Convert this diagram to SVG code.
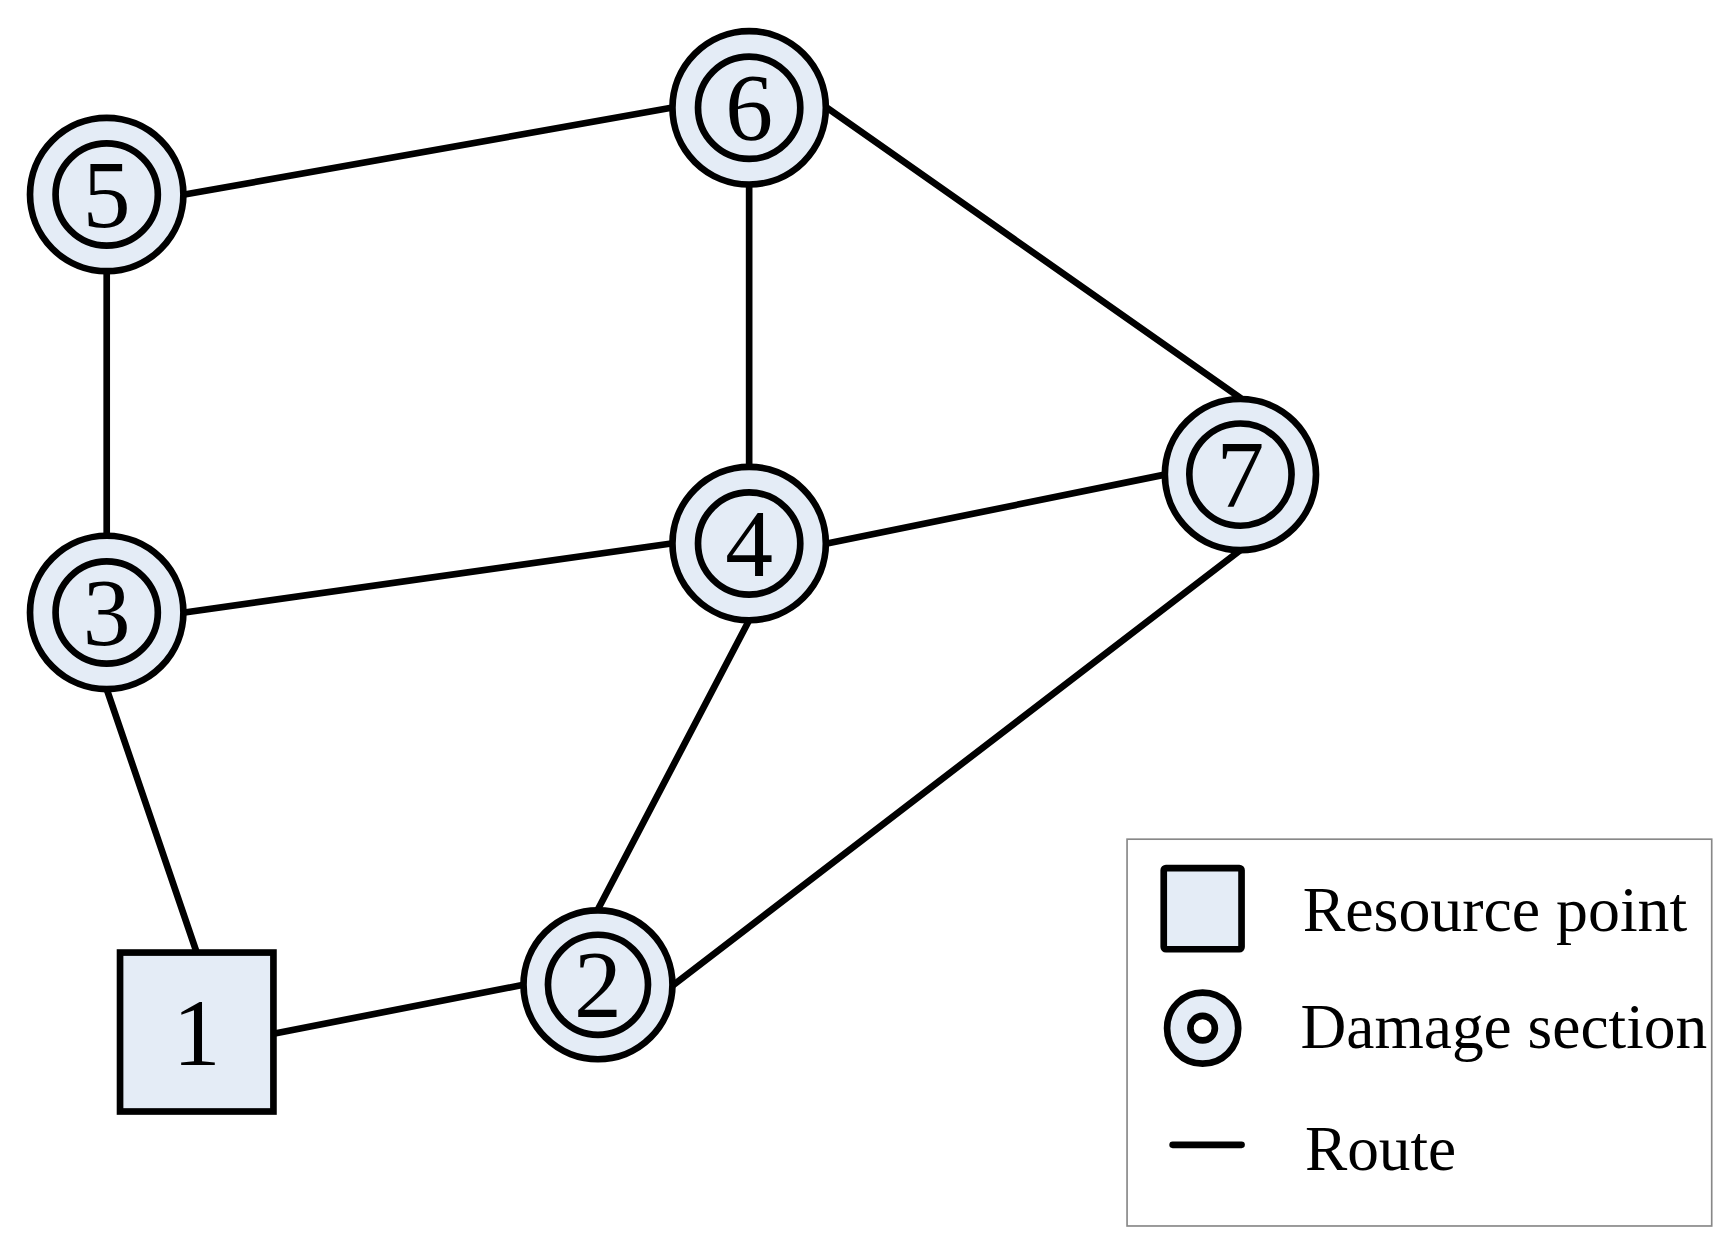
<svg xmlns="http://www.w3.org/2000/svg" width="1734" height="1248" viewBox="0 0 1734 1248">
<style>
.e{stroke:#000;stroke-width:6;fill:none;stroke-linecap:round}
.o{fill:#e4ecf6;stroke:#000;stroke-width:6}
.n{font-family:"Liberation Serif",serif;font-size:86px;text-anchor:middle}
.l{font-family:"Liberation Serif",serif;font-size:57px}
</style>
<rect width="1734" height="1248" fill="#fff"/>
<g transform="scale(1.1115)">
<g id="edges">
<line class="e" x1="166" y1="175" x2="604" y2="97"/>
<line class="e" x1="744" y1="97" x2="1116" y2="358"/>
<line class="e" x1="674" y1="166" x2="674" y2="420"/>
<line class="e" x1="96" y1="244" x2="96" y2="482"/>
<line class="e" x1="166" y1="551" x2="604" y2="489"/>
<line class="e" x1="744" y1="489" x2="1048" y2="427"/>
<line class="e" x1="674" y1="558" x2="538" y2="818"/>
<line class="e" x1="1116" y1="495" x2="606" y2="886"/>
<line class="e" x1="96" y1="620" x2="177" y2="857"/>
<line class="e" x1="246" y1="930" x2="471" y2="886"/>
</g>
<g id="n1"><rect class="o" x="108" y="857" width="138" height="143"/><text class="n" x="177" y="958">1</text></g>
<g id="n2"><circle class="o" cx="538" cy="886" r="67"/><circle class="o" cx="538" cy="886" r="45"/><text class="n" x="538" y="915">2</text></g>
<g id="n3"><circle class="o" cx="96" cy="551" r="69"/><circle class="o" cx="96" cy="551" r="46"/><text class="n" x="96" y="580">3</text></g>
<g id="n4"><circle class="o" cx="674" cy="489" r="69"/><circle class="o" cx="674" cy="489" r="46"/><text class="n" x="674" y="518">4</text></g>
<g id="n5"><circle class="o" cx="96" cy="175" r="69"/><circle class="o" cx="96" cy="175" r="46"/><text class="n" x="96" y="204">5</text></g>
<g id="n6"><circle class="o" cx="674" cy="97" r="69"/><circle class="o" cx="674" cy="97" r="46"/><text class="n" x="674" y="126">6</text></g>
<g id="n7"><circle class="o" cx="1116" cy="427" r="68"/><circle class="o" cx="1116" cy="427" r="46"/><text class="n" x="1116" y="456">7</text></g>
<g id="legend">
<rect x="1014" y="755" width="526" height="348" fill="#fff" stroke="#888" stroke-width="1.5"/>
<rect class="o" x="1047" y="781" width="70" height="73" rx="2"/>
<circle class="o" cx="1082" cy="925" r="32"/><circle fill="#fff" stroke="#000" stroke-width="6" cx="1082" cy="925" r="11"/>
<line class="e" x1="1055" y1="1030" x2="1117" y2="1030" stroke-width="7"/>
<text class="l" x="1172" y="838" textLength="346" lengthAdjust="spacingAndGlyphs">Resource point</text>
<text class="l" x="1170" y="943" textLength="366" lengthAdjust="spacingAndGlyphs">Damage section</text>
<text class="l" x="1174" y="1053">Route</text>
</g>
</g>
</svg>
